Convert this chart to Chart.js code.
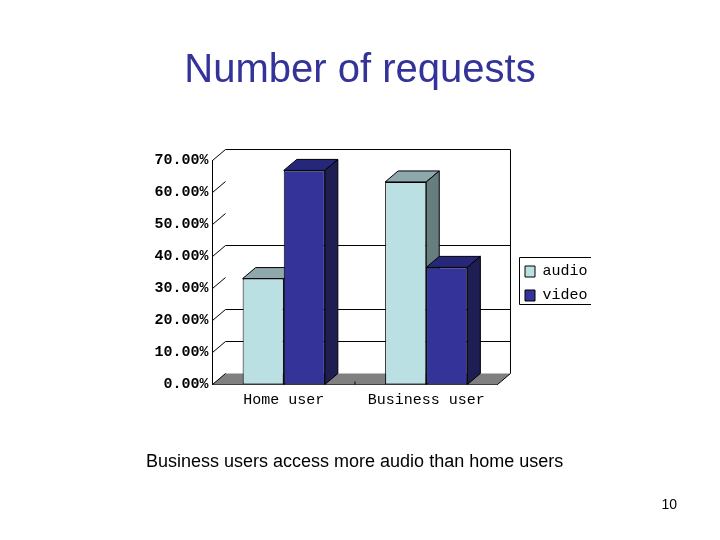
<!DOCTYPE html>
<html>
<head>
<meta charset="utf-8">
<title>Number of requests</title>
<script src="https://cdn.jsdelivr.net/npm/chart.js@4/dist/chart.umd.min.js"></script>
<style>
  html, body { margin: 0; padding: 0; background: #fff; }
  #page { position: relative; width: 720px; height: 540px; overflow: hidden; font-family: "Liberation Sans", Arial, sans-serif; }
  canvas { position: absolute; left: 0; top: 0; }
  .txt { position: absolute; white-space: nowrap; }
  #heading { left: 0; width: 720px; top: 46px; text-align: center; font-size: 40px; line-height: 44px; color: #333399; }
  #caption { left: 146px; top: 451px; font-size: 18px; line-height: 20px; color: #000; }
  #pageno { right: 43px; top: 496px; font-size: 14px; line-height: 16px; color: #000; }
</style>
</head>
<body>
<div id="page">
  <canvas id="chart" width="720" height="540"></canvas>
  <div class="txt" id="heading">Number of requests</div>
  <div class="txt" id="caption">Business users access more audio than home users</div>
  <div class="txt" id="pageno">10</div>
</div>
<script>
const categories = ['Home user', 'Business user'];
const audio = [33.1, 63.3];
const video = [66.9, 36.6];
const gridValues = [10, 20, 40, 70];
const axisFont = { family: '"Liberation Mono", monospace', size: 15 };
const valueFont = { family: '"Liberation Mono", monospace', size: 15, weight: 'bold' };

// depth of the fake 3D box, in px
const dx = 13, dy = 11;
const sideColors = [
  { top: '#8ea8ac', side: '#677d7e' },
  { top: '#26267a', side: '#1e1e52' }
];

function poly(ctx, pts, fill) {
  ctx.beginPath();
  pts.forEach((p, i) => i ? ctx.lineTo(p[0], p[1]) : ctx.moveTo(p[0], p[1]));
  ctx.closePath();
  if (fill) { ctx.fillStyle = fill; ctx.fill(); }
  ctx.stroke();
}

function line(ctx, x1, y1, x2, y2) {
  ctx.beginPath();
  ctx.moveTo(x1, y1);
  ctx.lineTo(x2, y2);
  ctx.stroke();
}

const box3d = {
  id: 'box3d',
  afterLayout(chart) {
    const l = chart.legend;
    // bottom is roomy on purpose, otherwise the legend wraps to a new column
    l.left = 516; l.right = 600; l.top = 255; l.bottom = 340;
  },
  beforeDatasetsDraw(chart) {
    const ctx = chart.ctx, a = chart.chartArea, y = chart.scales.y;
    ctx.save();
    ctx.strokeStyle = '#000';
    ctx.lineWidth = 1;

    // floor (no outline) and right edge of the back wall
    ctx.fillStyle = '#808080';
    ctx.beginPath();
    ctx.moveTo(a.left, a.bottom);
    ctx.lineTo(a.right, a.bottom);
    ctx.lineTo(a.right + dx, a.bottom - dy);
    ctx.lineTo(a.left + dx, a.bottom - dy);
    ctx.closePath();
    ctx.fill();
    line(ctx, a.right + dx, a.top - dy, a.right + dx, a.bottom - dy);
    line(ctx, a.right, a.bottom, a.right + dx, a.bottom - dy);

    // diagonal tick on the side wall, grid lines on the back wall
    y.ticks.forEach(t => {
      const py = y.getPixelForValue(t.value);
      line(ctx, a.left, py, a.left + dx, py - dy);
    });
    gridValues.forEach(v => {
      const py = y.getPixelForValue(v) - dy;
      line(ctx, a.left + dx, py, a.right + dx, py);
    });

    // top and side faces of the bars
    chart.data.datasets.forEach((ds, i) => {
      chart.getDatasetMeta(i).data.forEach(bar => {
        const p = bar.getProps(['x', 'y', 'base', 'width'], true);
        const l = p.x - p.width / 2, r = p.x + p.width / 2;
        poly(ctx, [[l, p.y], [r, p.y], [r + dx, p.y - dy], [l + dx, p.y - dy]], sideColors[i].top);
        poly(ctx, [[r, p.y], [r + dx, p.y - dy], [r + dx, p.base - dy], [r, p.base]], sideColors[i].side);
      });
    });
    ctx.restore();
  },
  afterDatasetsDraw(chart) {
    const ctx = chart.ctx, a = chart.chartArea;
    ctx.save();
    ctx.strokeStyle = '#000';
    ctx.lineWidth = 1;
    // small mark on the front edge between the categories
    line(ctx, (a.left + a.right) / 2, a.bottom, (a.left + a.right) / 2, a.bottom - 3);
    // legend frame, open on the right like the original
    ctx.beginPath();
    ctx.moveTo(591, 257.5);
    ctx.lineTo(519.5, 257.5);
    ctx.lineTo(519.5, 304.5);
    ctx.lineTo(591, 304.5);
    ctx.stroke();
    ctx.restore();
  }
};

new Chart(document.getElementById('chart'), {
  type: 'bar',
  data: {
    labels: categories,
    datasets: [
      { label: 'audio', data: audio, backgroundColor: '#bbe0e3', borderColor: '#000', borderWidth: 1, borderSkipped: false },
      { label: 'video', data: video, backgroundColor: '#333399', borderColor: '#000', borderWidth: 1, borderSkipped: false }
    ]
  },
  options: {
    responsive: false,
    animation: false,
    devicePixelRatio: 1,
    // right padding + legend width puts the plot edge at x = 497.5
    layout: { padding: { left: 0, top: 160.5, right: 141, bottom: 0 } },
    datasets: { bar: { barPercentage: 1, categoryPercentage: 0.577 } },
    scales: {
      x: {
        afterFit: s => { s.height = 155.5; },
        grid: { display: false, drawTicks: false },
        border: { display: true, color: '#000' },
        ticks: { color: '#000', font: axisFont, padding: 7, maxRotation: 0, autoSkip: false }
      },
      y: {
        min: 0,
        max: 70,
        afterFit: s => { s.width = 212.5; },
        grid: { display: false, drawTicks: false },
        border: { display: true, color: '#000' },
        ticks: { stepSize: 10, color: '#000', font: valueFont, padding: 4, callback: v => v.toFixed(2) + '%' }
      }
    },
    plugins: {
      title: { display: false },
      tooltip: { enabled: false },
      legend: {
        display: true,
        position: 'right',
        align: 'start',
        labels: { color: '#000', font: axisFont, boxWidth: 10, boxHeight: 11, padding: 9 }
      }
    }
  },
  plugins: [box3d]
});
</script>
</body>
</html>
